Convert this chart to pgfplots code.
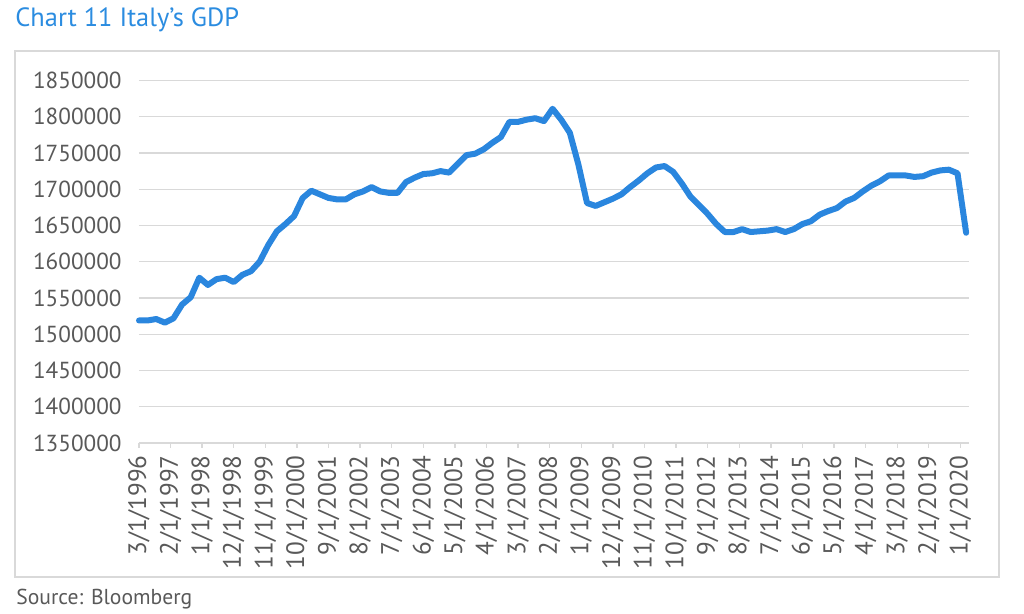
\documentclass[border=0pt]{standalone}
\usepackage{fontspec}
\setmainfont{PT Sans}
\usepackage{pgfplots}
\usepackage{pgfplotstable}
\pgfplotsset{compat=1.18}
\definecolor{gdpblue}{HTML}{2A86DE}
\definecolor{titleblue}{HTML}{2B8CE0}
\definecolor{txtgray}{HTML}{595959}
\definecolor{gridgray}{HTML}{D9D9D9}
\definecolor{framegray}{HTML}{D9D9D9}

\pgfplotstableread{
m gdp
0 1519000
3 1519000
6 1521000
9 1516000
12 1522000
15 1541000
18 1551000
21 1578000
24 1568000
27 1576000
30 1578000
33 1572000
36 1582000
39 1587000
42 1600000
45 1623000
48 1642000
51 1652000
54 1663000
57 1688000
60 1698000
63 1693000
66 1688000
69 1686000
72 1686000
75 1693000
78 1697000
81 1703000
84 1697000
87 1695000
90 1695000
93 1710000
96 1716000
99 1721000
102 1722000
105 1725000
108 1723000
111 1735000
114 1747000
117 1749000
120 1755000
123 1764000
126 1772000
129 1793000
132 1793000
135 1796000
138 1798000
141 1794000
144 1811000
147 1796000
150 1778000
153 1734000
156 1681000
159 1677000
162 1682000
165 1687000
168 1693000
171 1703000
174 1712000
177 1722000
180 1730000
183 1732000
186 1724000
189 1708000
192 1690000
195 1678000
198 1666000
201 1652000
204 1641000
207 1641000
210 1645000
213 1641000
216 1642000
219 1643000
222 1645000
225 1641000
228 1645000
231 1652000
234 1656000
237 1665000
240 1670000
243 1674000
246 1683000
249 1688000
252 1697000
255 1705000
258 1711000
261 1719000
264 1719000
267 1719000
270 1717000
273 1718000
276 1723000
279 1726000
282 1727000
285 1722000
288 1640000
}\gdptable

\begin{document}
\begin{tikzpicture}
\path[use as bounding box] (0,0) rectangle (512pt,-307pt);
\draw[framegray, line width=0.9pt] (7.5pt,-25.5pt) rectangle (499.5pt,-288.5pt);
\node[anchor=base west, inner sep=0pt, text=titleblue, font=\fontsize{13.2}{15}\selectfont] at (7.5pt,-13.3pt) {Chart 11 Italy’s GDP};
\node[anchor=base west, inner sep=0pt, text=txtgray, font=\fontsize{10.8}{13}\selectfont] at (8pt,-302.5pt) {Source: Bloomberg};
\begin{axis}[
  at={(69.5pt,-221.5pt)}, anchor=south west,
  scale only axis, width=415pt, height=181.25pt,
  xmin=0, xmax=289, ymin=1350000, ymax=1850000,
  axis x line*=bottom, axis y line*=left,
  y axis line style={draw=none},
  x axis line style={draw=gridgray, line width=0.7pt, -},
  ytick distance=50000,
  ymajorgrids, major grid style={draw=gridgray, line width=0.7pt},
  ytick style={draw=none},
  xtick={0,11,...,286},
  xticklabels={3/1/1996,2/1/1997,1/1/1998,12/1/1998,11/1/1999,10/1/2000,9/1/2001,8/1/2002,7/1/2003,6/1/2004,5/1/2005,4/1/2006,3/1/2007,2/1/2008,1/1/2009,12/1/2009,11/1/2010,10/1/2011,9/1/2012,8/1/2013,7/1/2014,6/1/2015,5/1/2016,4/1/2017,3/1/2018,2/1/2019,1/1/2020},
  tick align=outside,
  xtick style={draw=gridgray, line width=0.7pt},
  major tick length=2.5pt,
  xticklabel style={rotate=90, anchor=east, inner sep=0pt, xshift=-3.5pt, text=txtgray, font=\fontsize{12.6}{14}\selectfont},
  yticklabel style={anchor=east, inner sep=0pt, xshift=-6pt, text=txtgray, font=\fontsize{11.6}{14}\selectfont,
    /pgf/number format/.cd, fixed, 1000 sep={}, assume math mode=true},
  scaled y ticks=false,
  clip=false,
]
\addplot[gdpblue, line width=3pt, line join=round, line cap=round] table[x=m, y=gdp] {\gdptable};
\end{axis}
\end{tikzpicture}
\end{document}
